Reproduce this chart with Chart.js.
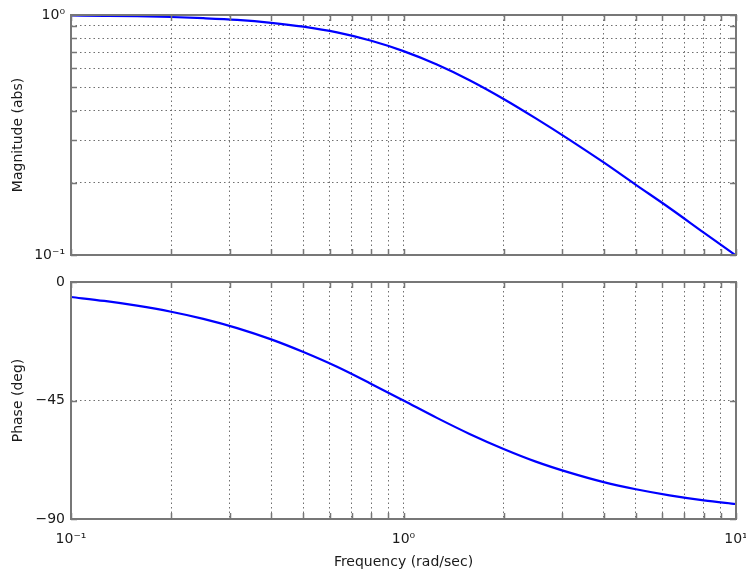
<!DOCTYPE html>
<html>
<head>
<meta charset="utf-8">
<script src="https://cdn.jsdelivr.net/npm/chart.js@4/dist/chart.umd.min.js"></script>
<style>
  html, body { margin: 0; padding: 0; background: #fff; }
  #wrap { position: relative; width: 746px; height: 573px; }
  #c1 { position: absolute; left: 0; top: 0; }
  #c2 { position: absolute; left: 0; top: 268px; }
</style>
</head>
<body>
<div id="wrap">
  <canvas id="c1" width="746" height="268"></canvas>
  <canvas id="c2" width="746" height="305"></canvas>
</div>
<script>
// ---- data ----
const frequency = [0.1, 0.126, 0.158, 0.2, 0.25, 0.316, 0.4, 0.5, 0.631, 0.8, 1,
                   1.26, 1.58, 2, 2.5, 3.16, 4, 5, 6.31, 8, 10];
const magnitude = [0.995, 0.992, 0.988, 0.981, 0.970, 0.954, 0.928, 0.894, 0.846, 0.781, 0.707,
                   0.622, 0.535, 0.447, 0.371, 0.302, 0.243, 0.196, 0.157, 0.124, 0.0995];
const phase = [-5.7, -7.2, -9.0, -11.3, -14.0, -17.5, -21.8, -26.6, -32.2, -38.7, -45,
               -51.6, -57.7, -63.4, -68.2, -72.4, -76.0, -78.7, -81.0, -82.9, -84.3];

const xTickValues = [0.1, 0.2, 0.3, 0.4, 0.5, 0.6, 0.7, 0.8, 0.9, 1,
                     2, 3, 4, 5, 6, 7, 8, 9, 10];
const xTickLabels = { 0.1: '10\u207B\u00B9', 1: '10\u2070', 10: '10\u00B9' };
const magTickValues = [0.1, 0.2, 0.3, 0.4, 0.5, 0.6, 0.7, 0.8, 0.9, 1];
const magTickLabels = { 0.1: '10\u207B\u00B9', 1: '10\u2070' };
const phaseTickValues = [-90, -45, 0];
const phaseTickLabels = { '-90': '\u221290', '-45': '\u221245', '0': '0' };

const xTitle = 'Frequency (rad/sec)';
const magTitle = 'Magnitude (abs)';
const phaseTitle = 'Phase (deg)';

// ---- styling ----
const FONT = { family: '"DejaVu Sans", "Liberation Sans", sans-serif', size: 14 };
const TEXT = '#1a1a1a';
const AXIS = '#777777';
const GRID = '#6f6f6f';
const LINE = '#0000ff';

const framePlugin = {
  id: 'frame',
  afterDraw(chart) {
    const { ctx, chartArea: a, scales } = chart;
    ctx.save();
    ctx.strokeStyle = AXIS;
    ctx.lineWidth = 2;
    ctx.strokeRect(a.left, a.top, a.right - a.left, a.bottom - a.top);
    ctx.lineWidth = 1.5;
    ctx.beginPath();
    scales.x.ticks.forEach(t => {
      const px = Math.round(scales.x.getPixelForValue(t.value)) + 0.5;
      ctx.moveTo(px, a.bottom); ctx.lineTo(px, a.bottom - 6);
      ctx.moveTo(px, a.top); ctx.lineTo(px, a.top + 6);
    });
    scales.y.ticks.forEach(t => {
      const py = Math.round(scales.y.getPixelForValue(t.value)) + 0.5;
      ctx.moveTo(a.left, py); ctx.lineTo(a.left + 6, py);
      ctx.moveTo(a.right, py); ctx.lineTo(a.right - 6, py);
    });
    ctx.stroke();
    ctx.restore();
  }
};

function setTicks(values) {
  return scale => { scale.ticks = values.map(v => ({ value: v })); };
}

function xAxis(showLabels, height) {
  return {
    type: 'logarithmic',
    min: 0.1, max: 10,
    afterBuildTicks: setTicks(xTickValues),
    afterFit: s => { s.height = height; s.paddingLeft = 0; s.paddingRight = 0; },
    grid: { display: true, color: GRID, lineWidth: 1, drawTicks: false },
    border: { display: false, dash: [1.5, 3] },
    ticks: {
      display: showLabels, autoSkip: false, maxRotation: 0, padding: 12,
      color: TEXT, font: FONT,
      callback: v => xTickLabels[v] !== undefined ? xTickLabels[v] : ''
    },
    title: {
      display: showLabels, text: xTitle, color: TEXT, font: FONT,
      padding: { top: 2, bottom: 2 }
    }
  };
}

function yAxis(cfg) {
  return Object.assign({
    afterFit: s => { s.width = 71; s.paddingTop = 0; s.paddingBottom = 0; },
    grid: { display: true, color: GRID, lineWidth: 1, drawTicks: false },
    border: { display: false, dash: [1.5, 3] },
    ticks: { autoSkip: false, padding: 6, color: TEXT, font: FONT },
    title: { display: true, color: TEXT, font: FONT, padding: { top: 10, bottom: 0 } }
  }, cfg);
}

const magY = yAxis({
  type: 'logarithmic', min: 0.1, max: 1,
  afterBuildTicks: setTicks(magTickValues)
});
magY.ticks = Object.assign({}, magY.ticks, {
  callback: v => magTickLabels[v] !== undefined ? magTickLabels[v] : ''
});
magY.title = Object.assign({}, magY.title, { text: magTitle });

const phaseY = yAxis({
  type: 'linear', min: -90, max: 0,
  afterBuildTicks: setTicks(phaseTickValues)
});
phaseY.ticks = Object.assign({}, phaseY.ticks, {
  callback: v => phaseTickLabels[String(v)]
});
phaseY.title = Object.assign({}, phaseY.title, { text: phaseTitle });

function makeChart(id, values, yScale, showX, xHeight, padTop) {
  return new Chart(document.getElementById(id), {
    type: 'line',
    data: {
      datasets: [{
        data: frequency.map((f, i) => ({ x: f, y: values[i] })),
        borderColor: LINE, borderWidth: 2.2, pointRadius: 0,
        cubicInterpolationMode: 'monotone', fill: false
      }]
    },
    options: {
      responsive: false, animation: false,
      layout: { padding: { left: 0, right: 10, top: padTop, bottom: 0 } },
      plugins: { legend: { display: false }, tooltip: { enabled: false } },
      scales: { x: xAxis(showX, xHeight), y: yScale }
    },
    plugins: [framePlugin]
  });
}

makeChart('c1', magnitude, magY, false, 13, 15);
makeChart('c2', phase, phaseY, true, 54, 14);
</script>
</body>
</html>
